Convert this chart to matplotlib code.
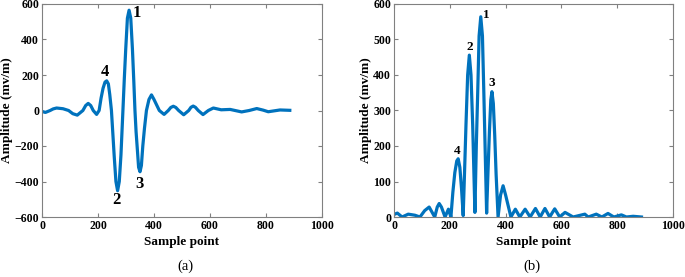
import matplotlib
matplotlib.use("Agg")
import matplotlib.pyplot as plt
import numpy as np

# ---- data ----
a_x = [0, 12, 29, 40, 52, 75, 95, 110, 126, 146, 156, 165, 174, 183, 195, 204,
       211, 218, 225, 231, 237, 242, 248, 253, 258, 264, 270, 276, 282, 289,
       294, 299, 305, 311, 317, 323, 328, 332, 336, 341, 345, 350, 355, 360, 366, 373,
       382, 391, 400, 419, 436, 451, 460, 469, 478, 488, 506, 524, 532, 540, 548, 558,
       575, 594, 612, 640, 672, 713, 740, 767, 790, 808, 850, 885]
a_y = [-5, -11, 0, 9, 14, 10, 0, -18, -26, 0, 28, 40, 28, 0, -22, 0,
       70, 125, 160, 167, 150, 90, 0, -130, -260, -400, -452, -400, -250, 0,
       180, 345, 520, 565, 520, 345, 160, 0, -120, -230, -320, -345, -310, -200, -100, 0,
       62, 88, 62, 0, -22, 0, 17, 24, 17, 0, -24, 0, 18, 25, 18, 0,
       -23, 0, 14, 4, 6, -8, 0, 11, 2, -7, 3, 1]

b_x = [0, 12, 29, 51, 75, 93, 110, 126, 146, 155, 162, 170, 183, 195, 204,
       211, 218, 225, 230, 236, 242, 248, 253, 258, 264, 270, 276, 282, 290,
       295, 300, 305, 311, 317, 322, 327, 332, 337, 342, 347, 351, 356, 361, 366, 373,
       382, 391, 400, 419, 435, 451, 470, 488, 507, 524, 541, 558, 576, 594,
       613, 642, 684, 696, 725, 745, 767, 788, 815, 833, 857, 887]
b_y = [7, 11, 0, 8, 5, 0, 18, 28, 0, 28, 38, 28, 0, 22, 0,
       70, 125, 158, 164, 140, 80, 4, 130, 260, 400, 456, 400, 260, 13,
       200, 350, 510, 564, 510, 350, 180, 11, 130, 240, 330, 353, 320, 230, 120, 0,
       62, 88, 62, 0, 22, 0, 22, 0, 24, 0, 24, 0, 23, 0,
       13, 0, 8, 0, 8, 0, 10, 0, 6, 0, 2, 0]

a_labels = ["1", "2", "3", "4"]
a_label_x = [340, 267, 348, 226]
a_label_y = [548, -505, -412, 216]
b_label_x = [332, 270, 351, 227]
b_label_y = [569, 480, 377, 187]

x_ticks = [0, 200, 400, 600, 800, 1000]
a_yticks = [-600, -400, -200, 0, 200, 400, 600]
b_yticks = [0, 100, 200, 300, 400, 500, 600]

# ---- styling ----
plt.rcParams['font.family'] = 'serif'
plt.rcParams['font.serif'] = ['Liberation Serif', 'DejaVu Serif']
line_color = '#0072BD'
spine_color = '#808080'

fig = plt.figure(figsize=(6.85, 2.77), dpi=100)
ax1 = fig.add_axes([42/685, 1-217/277, (322-42)/685, 213/277])
ax2 = fig.add_axes([394/685, 1-217/277, (673-394)/685, 213/277])

def style(ax, yticks, ylim):
    ax.set_xlim(0, 1000)
    ax.set_ylim(*ylim)
    ax.set_xticks(x_ticks)
    ax.set_yticks(yticks)
    ax.tick_params(direction='in', top=True, right=True, length=3,
                   width=0.8, color=spine_color, labelsize=8.5, pad=2)
    for lab in ax.get_xticklabels() + ax.get_yticklabels():
        lab.set_fontweight('bold')
    for s in ax.spines.values():
        s.set_color(spine_color)
        s.set_linewidth(0.8)
    ax.set_xlabel('Sample point', fontsize=9.5, fontweight='bold', labelpad=3)
    ax.set_ylabel('Amplitude (mv/m)', fontsize=9.5, fontweight='bold', labelpad=1)

ax1.plot(a_x, a_y, color=line_color, lw=2.3, solid_joinstyle='round')
style(ax1, a_yticks, (-600, 600))
for t, x, y in zip(a_labels, a_label_x, a_label_y):
    ax1.text(x, y, t, fontsize=12, fontweight='bold', ha='center', va='center')

ax2.plot(b_x, b_y, color=line_color, lw=2.3, solid_joinstyle='round')
style(ax2, b_yticks, (0, 600))
for t, x, y in zip(a_labels, b_label_x, b_label_y):
    ax2.text(x, y, t, fontsize=9.5, fontweight='bold', ha='center', va='center')

fig.text(185/685, 1-266/277, '(a)', fontsize=10.5, ha='center', va='center')
fig.text(532/685, 1-266/277, '(b)', fontsize=10.5, ha='center', va='center')

fig.savefig('out.png', dpi=100)
